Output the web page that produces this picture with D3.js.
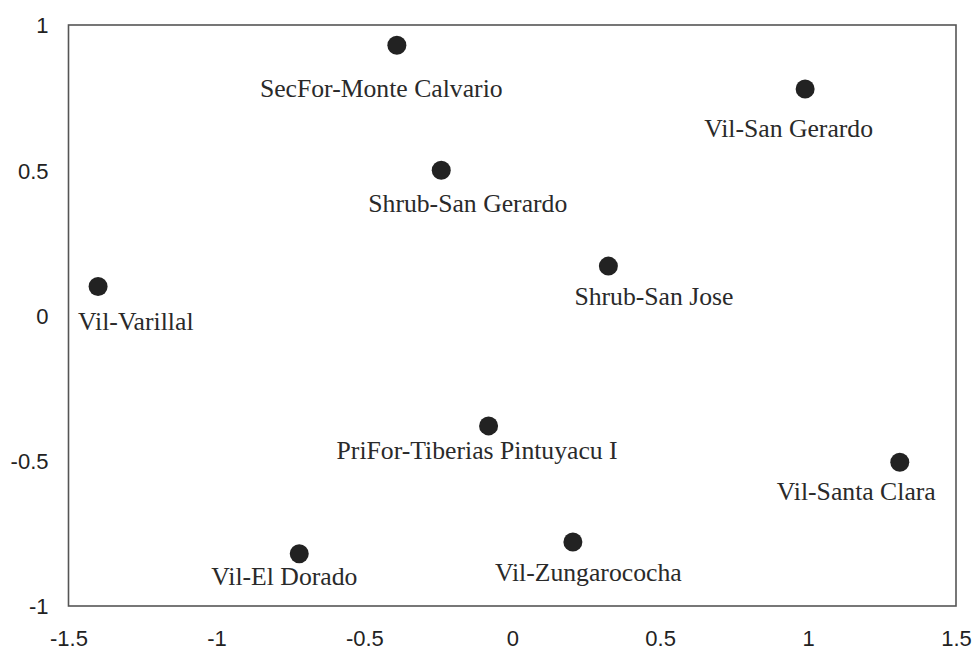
<!DOCTYPE html>
<html>
<head>
<meta charset="utf-8">
<script src="https://cdn.jsdelivr.net/npm/d3@7"></script>
<style>
  html, body { margin: 0; padding: 0; background: #fff; }
  svg { display: block; }
</style>
</head>
<body>
<svg id="chart" width="974" height="650"></svg>
<script>
// ---- data ----
const sites = [
  "SecFor-Monte Calvario",
  "Vil-San Gerardo",
  "Shrub-San Gerardo",
  "Shrub-San Jose",
  "Vil-Varillal",
  "PriFor-Tiberias Pintuyacu I",
  "Vil-Santa Clara",
  "Vil-El Dorado",
  "Vil-Zungarococha"
];
const xValues = [-0.39, 0.99, -0.24, 0.325, -1.40, -0.08, 1.31, -0.72, 0.205];
const yValues = [0.93, 0.78, 0.50, 0.17, 0.10, -0.38, -0.505, -0.82, -0.78];
const xTicks = [-1.5, -1, -0.5, 0, 0.5, 1, 1.5];
const yTicks = [-1, -0.5, 0, 0.5, 1];

// ---- layout (label placement relative to point, px) ----
const labelDx = [-137, -101, -73, -34, -20, -152, -123, -88, -78];
const labelDy = [52, 48, 42, 39, 44, 33, 38, 31, 39];

const svg = d3.select("#chart");
const mLeft = 68.5, mRight = 956, mTop = 25, mBottom = 606;

const x = d3.scaleLinear().domain([-1.5, 1.5]).range([mLeft, mRight]);
const y = d3.scaleLinear().domain([-1, 1]).range([mBottom, mTop]);

const fmt = d => String(d);

// x axis
const gx = svg.append("g")
  .attr("transform", `translate(0,${mBottom})`)
  .call(d3.axisBottom(x).tickValues(xTicks).tickSize(0).tickPadding(0).tickFormat(fmt));
gx.select(".domain").remove();
gx.selectAll("text")
  .attr("y", 40).attr("dy", 0)
  .attr("font-family", "Liberation Sans, Arial, sans-serif")
  .attr("font-size", 22).attr("fill", "#222");

// y axis
const gy = svg.append("g")
  .attr("transform", `translate(${mLeft},0)`)
  .call(d3.axisLeft(y).tickValues(yTicks).tickSize(0).tickPadding(0).tickFormat(fmt));
gy.select(".domain").remove();
gy.selectAll("text")
  .attr("x", -20).attr("dy", "0.36em")
  .attr("font-family", "Liberation Sans, Arial, sans-serif")
  .attr("font-size", 22).attr("fill", "#222");

// frame
svg.append("rect")
  .attr("x", mLeft).attr("y", mTop)
  .attr("width", mRight - mLeft).attr("height", mBottom - mTop)
  .attr("fill", "none").attr("stroke", "#555").attr("stroke-width", 1.6);

const pts = sites.map((s, i) => ({ name: s, x: xValues[i], y: yValues[i], dx: labelDx[i], dy: labelDy[i] }));

svg.append("g").selectAll("circle").data(pts).join("circle")
  .attr("cx", d => x(d.x)).attr("cy", d => y(d.y)).attr("r", 9.5)
  .attr("fill", "#222");

svg.append("g").selectAll("text").data(pts).join("text")
  .attr("x", d => x(d.x) + d.dx).attr("y", d => y(d.y) + d.dy)
  .attr("font-family", "Liberation Serif, 'Times New Roman', serif")
  .attr("font-size", 25.7).attr("fill", "#2a2a2a")
  .text(d => d.name);
</script>
</body>
</html>
